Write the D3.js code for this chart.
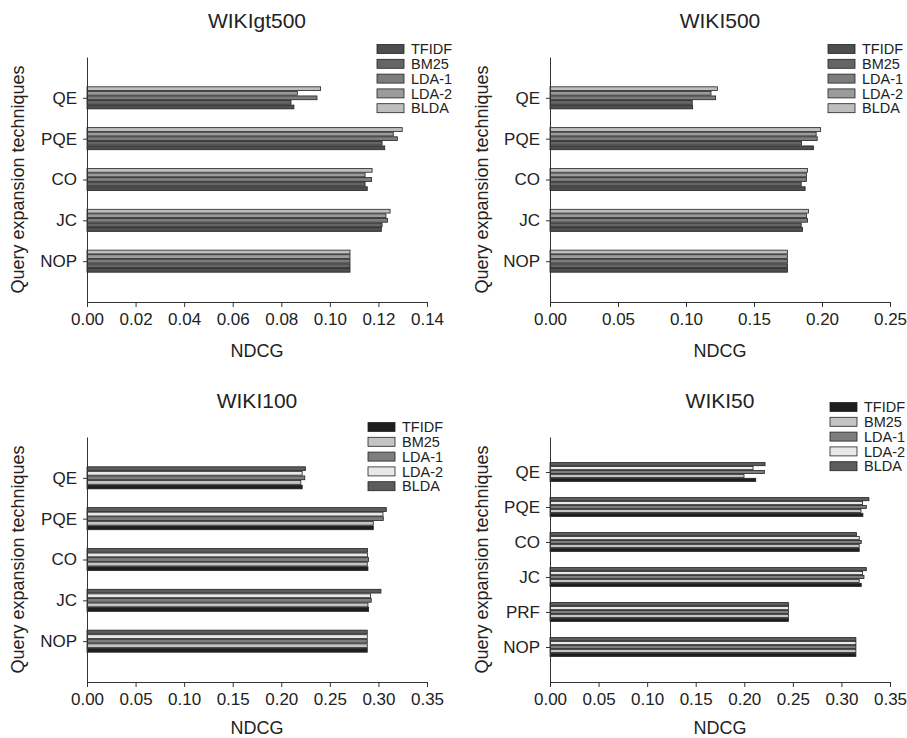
<!DOCTYPE html>
<html>
  <head>
    <meta charset="utf-8">
    <title>NDCG by query expansion technique</title>
    <script src="https://d3js.org/d3.v7.min.js"></script>
    <style>
      body { margin: 0; background: #fff; }
      svg { font-family: "Liberation Sans", Arial, sans-serif; }
      .axis path, .axis line { stroke: #333; }
      .axis text { fill: #222; font-size: 17px; }
    </style>
  </head>

  <body>
    <svg id="canvas" width="907" height="738"></svg>
    <script>
      // series, bottom bar first
      const series = ["TFIDF", "BM25", "LDA-1", "LDA-2", "BLDA"];
      const catsFive = ["QE", "PQE", "CO", "JC", "NOP"];
      const catsSix = ["QE", "PQE", "CO", "JC", "PRF", "NOP"];

      const ticksGt500 = [0, 0.02, 0.04, 0.06, 0.08, 0.10, 0.12, 0.14];
      const ticks500 = [0, 0.05, 0.10, 0.15, 0.20, 0.25];
      const ticks100 = [0, 0.05, 0.10, 0.15, 0.20, 0.25, 0.30, 0.35];

      // values per category: TFIDF, BM25, LDA-1, LDA-2, BLDA
      const wikiGt500 = [
        [0.0852, 0.0840, 0.0947, 0.0866, 0.0962], // QE
        [0.1226, 0.1215, 0.1278, 0.1261, 0.1298], // PQE
        [0.1154, 0.1145, 0.1172, 0.1145, 0.1174], // CO
        [0.1212, 0.1215, 0.1237, 0.1231, 0.1248], // JC
        [0.1083, 0.1083, 0.1083, 0.1083, 0.1083]  // NOP
      ];
      const wiki500 = [
        [0.1049, 0.1046, 0.1218, 0.1184, 0.1231],
        [0.1938, 0.1849, 0.1965, 0.1957, 0.1990],
        [0.1876, 0.1847, 0.1886, 0.1886, 0.1894],
        [0.1857, 0.1847, 0.1894, 0.1886, 0.1901],
        [0.1746, 0.1746, 0.1746, 0.1746, 0.1746]
      ];
      const wiki100 = [
        [0.2215, 0.2201, 0.2242, 0.2215, 0.2249],
        [0.2947, 0.2947, 0.3050, 0.3047, 0.3081],
        [0.2892, 0.2885, 0.2899, 0.2888, 0.2888],
        [0.2899, 0.2892, 0.2926, 0.2919, 0.3026],
        [0.2885, 0.2885, 0.2885, 0.2885, 0.2885]
      ];
      const wiki50 = [
        [0.2118, 0.1997, 0.2207, 0.2090, 0.2214],
        [0.3221, 0.3201, 0.3256, 0.3218, 0.3283],
        [0.3183, 0.3183, 0.3204, 0.3183, 0.3156],
        [0.3204, 0.3183, 0.3232, 0.3218, 0.3256],
        [0.2455, 0.2455, 0.2455, 0.2455, 0.2455],
        [0.3149, 0.3149, 0.3149, 0.3149, 0.3149]
      ];

      const greysTop = ["#4e4e4e", "#656565", "#7d7d7d", "#9b9b9b", "#bebebe"];
      const greysBottom = ["#1e1e1e", "#c4c4c4", "#7e7e7e", "#e8e8e8", "#5c5c5c"];

      const canvas = d3.select("#canvas");
      const plotW = 340, plotH = 245;

      const panels = [
        { title: "WIKIgt500", left: 87, top: 57, cats: catsFive, values: wikiGt500,
          ticks: ticksGt500, max: 0.14, colors: greysTop, legend: [377, 49], labelX: 18, xTitle: 55 },
        { title: "WIKI500", left: 550, top: 57, cats: catsFive, values: wiki500,
          ticks: ticks500, max: 0.25, colors: greysTop, legend: [828, 49], labelX: 482, xTitle: 55 },
        { title: "WIKI100", left: 87, top: 437, cats: catsFive, values: wiki100,
          ticks: ticks100, max: 0.35, colors: greysBottom, legend: [368, 427], labelX: 18, xTitle: 52 },
        { title: "WIKI50", left: 550, top: 437, cats: catsSix, values: wiki50,
          ticks: ticks100, max: 0.35, colors: greysBottom, legend: [830, 407], labelX: 482, xTitle: 52 }
      ];

      panels.forEach(drawPanel);

      function drawPanel(p) {
        const g = canvas.append("g")
          .attr("transform", "translate(" + p.left + "," + p.top + ")");

        const x = d3.scaleLinear()
          .domain([0, p.max])
          .range([0, plotW]);
        const y = d3.scalePoint()
          .domain(p.cats)
          .range([0, plotH])
          .padding(1);
        const groupH = y.step() * 0.56;
        const inner = d3.scaleBand()
          .domain(series.slice().reverse())
          .range([-groupH / 2, groupH / 2]);

        // bars
        const groups = g.selectAll(".cat")
          .data(p.cats)
          .enter().append("g")
            .attr("transform", function(d) { return "translate(0," + y(d) + ")"; });
        groups.selectAll("rect")
          .data(function(d, i) {
            return series.map(function(s, j) { return { s: s, v: p.values[i][j], j: j }; });
          })
          .enter().append("rect")
            .attr("x", 0)
            .attr("y", function(d) { return inner(d.s) + 0.4; })
            .attr("height", inner.bandwidth() - 0.8)
            .attr("width", function(d) { return x(d.v); })
            .attr("fill", function(d) { return p.colors[d.j]; })
            .attr("stroke", "#222")
            .attr("stroke-width", 0.8);

        // axes
        g.append("g")
          .attr("class", "axis")
          .attr("transform", "translate(0," + plotH + ")")
          .call(d3.axisBottom(x)
            .tickValues(p.ticks)
            .tickFormat(d3.format(".2f"))
            .tickSize(5)
            .tickSizeOuter(0)
            .tickPadding(6));
        g.append("g")
          .attr("class", "axis")
          .call(d3.axisLeft(y)
            .tickSize(4)
            .tickSizeOuter(0)
            .tickPadding(6));

        // titles
        canvas.append("text")
          .attr("x", p.left + plotW / 2)
          .attr("y", p.top - 29)
          .attr("text-anchor", "middle")
          .attr("font-size", 21)
          .attr("fill", "#222")
          .text(p.title);
        canvas.append("text")
          .attr("x", p.left + plotW / 2)
          .attr("y", p.top + plotH + p.xTitle)
          .attr("text-anchor", "middle")
          .attr("font-size", 18)
          .attr("fill", "#222")
          .text("NDCG");
        canvas.append("text")
          .attr("transform", "translate(" + (p.labelX + 6) + "," + (p.top + plotH / 2) + ") rotate(-90)")
          .attr("text-anchor", "middle")
          .attr("font-size", 18)
          .attr("fill", "#222")
          .text("Query expansion techniques");

        // legend
        const legend = canvas.append("g")
          .attr("transform", "translate(" + p.legend[0] + "," + p.legend[1] + ")");
        const items = legend.selectAll("g")
          .data(series)
          .enter().append("g")
            .attr("transform", function(d, i) { return "translate(0," + i * 14.8 + ")"; });
        items.append("rect")
          .attr("x", 0)
          .attr("y", -4.5)
          .attr("width", 27)
          .attr("height", 9)
          .attr("fill", function(d, i) { return p.colors[i]; })
          .attr("stroke", "#222")
          .attr("stroke-width", 0.8);
        items.append("text")
          .attr("x", 34)
          .attr("dy", "0.36em")
          .attr("font-size", 14.5)
          .attr("fill", "#222")
          .text(function(d) { return d; });
      }
    </script>
  </body>
</html>
